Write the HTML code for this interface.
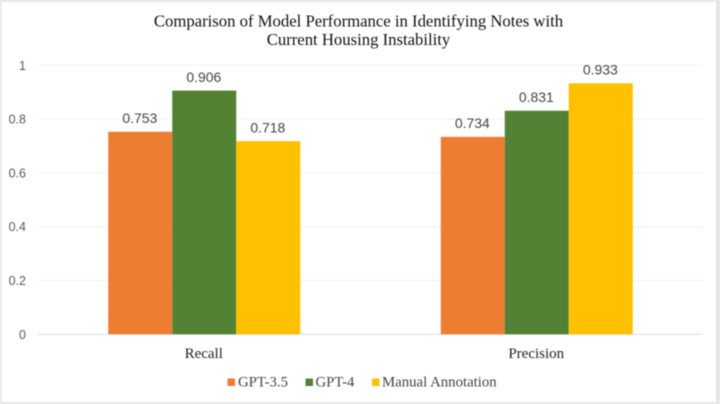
<!DOCTYPE html>
<html>
<head>
<meta charset="utf-8">
<style>
html,body{margin:0;padding:0;background:#fff;width:720px;height:404px;overflow:hidden}
svg{display:block;filter:blur(0.4px)}
</style>
</head>
<body>
<svg id="chart" width="720" height="404" viewBox="0 0 720 404" xmlns="http://www.w3.org/2000/svg">
  <rect x="0" y="0" width="720" height="404" fill="#e4e4e4"/>
  <rect x="1.5" y="2" width="714.5" height="400" fill="#ffffff"/>
  <text x="358.500" y="26.500" text-anchor="middle" font-family="'Liberation Serif',serif" font-size="16.7" fill="#111111">Comparison of Model Performance in Identifying Notes with</text>
  <text x="358.500" y="45" text-anchor="middle" font-family="'Liberation Serif',serif" font-size="16.7" fill="#111111">Current Housing Instability</text>
  <g id="grid"></g>
  <g id="bars"></g>
  <g id="labels"></g>
  <g font-family="'Liberation Serif',serif" font-size="14.8" fill="#444444">
    <rect x="227.500" y="378.500" width="7.500" height="7.500" fill="#ed7d31"/>
    <text x="238" y="386.500">GPT-3.5</text>
    <rect x="305.500" y="378.500" width="7.500" height="7.500" fill="#548235"/>
    <text x="315.500" y="386.500">GPT-4</text>
    <rect x="372" y="378.500" width="7.500" height="7.500" fill="#ffc000"/>
    <text x="382" y="386.500">Manual Annotation</text>
  </g>
</svg>
<script>
const categories = ['Recall', 'Precision'];
const seriesNames = ['GPT-3.5', 'GPT-4', 'Manual Annotation'];
const gpt35Values = [0.753, 0.734];
const gpt4Values = [0.906, 0.831];
const manualValues = [0.718, 0.933];
const yTicks = [0, 0.2, 0.4, 0.6, 0.8, 1];

const seriesValues = [gpt35Values, gpt4Values, manualValues];
const seriesColors = ['#ed7d31', '#548235', '#ffc000'];
const NS = 'http://www.w3.org/2000/svg';
const plot = {left: 38, right: 703, top: 65.3, bottom: 334.3};
const barWidth = 64;

function yScale(v) {
  return plot.bottom - v * (plot.bottom - plot.top);
}
function categoryCenter(i) {
  return plot.left + (i + 0.5) * (plot.right - plot.left) / categories.length;
}
function make(tag, attrs, parent) {
  const el = document.createElementNS(NS, tag);
  for (const k in attrs) el.setAttribute(k, attrs[k]);
  parent.appendChild(el);
  return el;
}

const grid = document.getElementById('grid');
const bars = document.getElementById('bars');
const labels = document.getElementById('labels');

yTicks.forEach(function (t) {
  const y = yScale(t);
  const line = make('line', {x1: plot.left, x2: plot.right, y1: y, y2: y,
    stroke: t === 0 ? '#dcdcdc' : '#f0f0f0', 'stroke-width': 1}, grid);
  
  
  const tick = make('text', {x: 26, y: y + 4.5, 'text-anchor': 'end',
    'font-family': "'Liberation Sans',sans-serif", 'font-size': 12.5, fill: '#595959'}, labels);
  
  
  tick.textContent = String(t);
});

categories.forEach(function (cat, c) {
  const cx = categoryCenter(c);
  seriesValues.forEach(function (vals, s) {
    const v = vals[c];
    const x = cx + (s - 1.5) * barWidth;
    const y = yScale(v);
    const bar = make('rect', {x: x, y: y, width: barWidth, height: plot.bottom - y, fill: seriesColors[s]}, bars);
    
    
    const label = make('text', {x: x + barWidth / 2 - 0.4, y: y - 8.7, 'text-anchor': 'middle',
      'font-family': "'Liberation Sans',sans-serif", 'font-size': 14, fill: '#444444'}, labels);
    
    
    label.textContent = v.toFixed(3);
  });
  const catLabel = make('text', {x: cx - 0.5, y: 358, 'text-anchor': 'middle',
    'font-family': "'Liberation Serif',serif", 'font-size': 15, fill: '#222222'}, labels);
  
  
  catLabel.textContent = cat;
});
</script>
</body>
</html>
